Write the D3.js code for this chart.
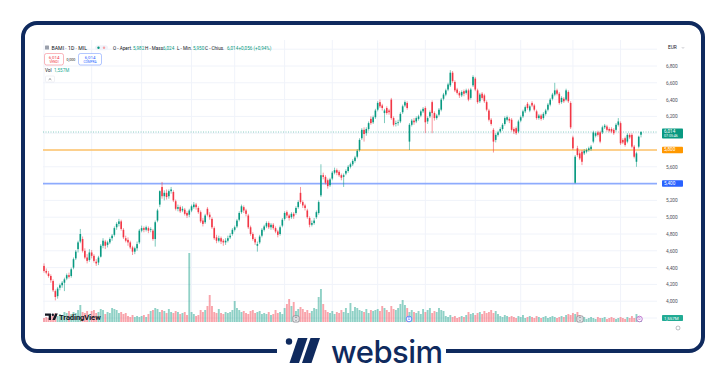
<!DOCTYPE html>
<html><head><meta charset="utf-8">
<script src="https://cdn.jsdelivr.net/npm/d3@7"></script>
<style>html,body{margin:0;padding:0;background:#fff;}svg{display:block;font-family:Roboto,"Noto Sans",sans-serif;}</style>
</head><body><svg id="c" width="726" height="373"></svg>
<script>
// ---------- DATA (BAMI · 1D · MIL, Set 2023 – Set 2024) ----------
const opens=[4.42,4.36,4.33,4.30,4.24,4.12,4.06,4.16,4.19,4.22,
4.27,4.31,4.30,4.40,4.51,4.62,4.71,4.74,4.60,4.52,
4.49,4.58,4.54,4.47,4.46,4.53,4.66,4.71,4.67,4.70,
4.75,4.79,4.88,4.92,4.95,4.85,4.75,4.73,4.70,4.64,
4.59,4.63,4.70,4.84,4.87,4.85,4.87,4.85,4.84,4.74,
4.96,5.15,5.36,5.25,5.29,5.25,5.31,5.30,5.19,5.10,
5.12,5.08,5.09,5.05,5.03,5.08,5.12,5.15,5.11,5.06,
4.96,4.94,5.10,5.03,4.98,4.87,4.76,4.72,4.75,4.72,
4.70,4.72,4.76,4.80,4.85,4.89,4.97,5.06,5.12,5.08,
5.02,4.88,4.80,4.74,4.66,4.70,4.78,4.85,4.89,4.93,
4.88,4.91,4.87,4.83,4.80,4.90,4.98,5.06,5.02,5.00,
5.04,5.05,5.12,5.29,5.18,5.14,5.08,4.99,4.91,4.93,
5.00,5.05,5.26,5.50,5.48,5.44,5.38,5.46,5.53,5.56,
5.54,5.50,5.48,5.52,5.55,5.60,5.63,5.67,5.72,5.80,
5.94,6.04,6.00,6.05,6.17,6.13,6.19,6.28,6.37,6.33,
6.24,6.30,6.27,6.40,6.18,6.11,6.12,6.14,6.25,6.33,
6.36,5.90,6.10,6.15,6.14,6.17,6.21,6.26,6.30,6.14,
6.20,6.37,6.24,6.18,6.22,6.28,6.41,6.46,6.52,6.57,
6.72,6.61,6.52,6.48,6.45,6.50,6.48,6.51,6.42,6.57,
6.65,6.51,6.38,6.47,6.45,6.37,6.27,6.16,6.04,5.92,
5.98,6.02,6.05,6.11,6.16,6.17,6.16,6.05,6.06,6.02,
6.15,6.20,6.26,6.35,6.27,6.36,6.33,6.26,6.18,6.21,
6.18,6.23,6.28,6.34,6.41,6.46,6.51,6.47,6.37,6.41,
6.40,6.49,6.36,5.95,5.41,5.82,5.76,5.78,5.76,5.78,
5.80,5.81,5.90,5.97,6.01,6.01,6.01,6.07,6.08,6.05,
6.05,6.04,6.04,6.10,6.12,5.92,5.94,5.90,5.98,5.98,
5.84,5.66,5.84,5.982];
const highs=[4.45,4.39,4.36,4.32,4.26,4.14,4.17,4.21,4.24,4.28,
4.33,4.34,4.40,4.52,4.61,4.72,4.86,4.77,4.63,4.56,
4.62,4.61,4.56,4.50,4.54,4.68,4.75,4.73,4.72,4.76,
4.80,4.89,4.94,4.98,4.97,4.87,4.78,4.76,4.72,4.66,
4.65,4.71,4.86,4.90,4.89,4.90,4.89,4.88,4.86,4.96,
5.10,5.32,5.42,5.32,5.33,5.33,5.36,5.32,5.21,5.15,
5.14,5.13,5.11,5.07,5.10,5.15,5.18,5.17,5.13,5.08,
4.99,5.04,5.12,5.06,5.00,4.89,4.79,4.78,4.77,4.74,
4.75,4.78,4.81,4.87,4.90,4.98,5.07,5.15,5.14,5.10,
5.04,4.90,4.82,4.76,4.71,4.79,4.87,4.91,4.95,4.95,
4.93,4.93,4.89,4.85,4.90,4.99,5.07,5.08,5.04,5.06,
5.06,5.13,5.20,5.36,5.20,5.16,5.10,5.01,4.96,4.99,
5.08,5.20,5.63,5.53,5.50,5.46,5.47,5.55,5.59,5.58,
5.56,5.52,5.52,5.57,5.62,5.65,5.69,5.73,5.81,5.94,
6.06,6.07,6.07,6.14,6.20,6.21,6.29,6.38,6.40,6.35,
6.29,6.32,6.29,6.42,6.20,6.15,6.16,6.25,6.34,6.39,
6.38,6.12,6.17,6.18,6.20,6.22,6.28,6.31,6.32,6.20,
6.27,6.39,6.26,6.23,6.30,6.42,6.48,6.53,6.60,6.75,
6.74,6.63,6.54,6.50,6.51,6.52,6.53,6.53,6.54,6.69,
6.67,6.53,6.48,6.49,6.47,6.39,6.29,6.18,6.06,6.00,
6.03,6.07,6.12,6.20,6.21,6.19,6.18,6.07,6.08,6.16,
6.21,6.28,6.33,6.37,6.34,6.38,6.35,6.28,6.23,6.23,
6.25,6.29,6.36,6.42,6.48,6.60,6.53,6.49,6.44,6.43,
6.53,6.51,6.38,5.97,5.74,5.85,5.79,5.80,5.81,5.82,
5.84,5.86,6.03,6.02,6.03,6.03,6.09,6.11,6.10,6.07,
6.07,6.06,6.12,6.18,6.14,5.94,5.96,6.00,6.00,6.00,
5.86,5.78,5.97,6.024];
const lows=[4.34,4.32,4.28,4.22,4.11,4.01,4.03,4.13,4.16,4.12,
4.25,4.27,4.28,4.38,4.49,4.58,4.69,4.58,4.50,4.45,
4.47,4.51,4.46,4.42,4.43,4.52,4.63,4.62,4.64,4.68,
4.72,4.77,4.85,4.89,4.84,4.74,4.70,4.66,4.62,4.55,
4.56,4.60,4.68,4.82,4.82,4.83,4.81,4.82,4.72,4.65,
4.94,5.12,5.22,5.20,5.21,5.22,5.28,5.18,5.08,5.07,
5.05,5.06,5.02,4.99,5.00,5.06,5.10,5.09,5.04,4.93,
4.89,4.92,5.01,4.97,4.86,4.73,4.69,4.70,4.68,4.66,
4.67,4.70,4.74,4.78,4.83,4.87,4.95,5.04,5.05,5.01,
4.86,4.78,4.72,4.67,4.59,4.68,4.76,4.83,4.87,4.86,
4.85,4.85,4.81,4.76,4.78,4.88,4.96,4.99,4.96,4.98,
4.98,5.03,5.10,5.16,5.11,5.08,4.98,4.88,4.89,4.91,
4.98,5.03,5.24,5.45,5.39,5.34,5.36,5.44,5.51,5.50,
5.48,5.44,5.36,5.50,5.53,5.58,5.61,5.65,5.70,5.78,
5.92,5.90,5.97,6.03,6.10,6.11,6.17,6.26,6.30,6.27,
6.12,6.22,6.22,6.16,6.08,6.08,6.09,6.12,6.23,6.31,
6.28,5.80,6.08,6.10,6.12,6.15,6.19,6.24,6.00,6.11,
6.18,6.00,6.15,6.16,6.20,6.26,6.39,6.44,6.50,6.55,
6.60,6.49,6.46,6.42,6.43,6.44,6.46,6.38,6.40,6.55,
6.50,6.35,6.36,6.40,6.36,6.26,6.14,6.09,5.77,5.89,
5.96,6.00,6.03,6.09,6.14,6.12,6.02,5.99,5.98,6.00,
6.13,6.18,6.24,6.28,6.25,6.31,6.26,6.16,6.16,6.15,
6.16,6.21,6.26,6.32,6.39,6.44,6.45,6.34,6.35,6.36,
6.38,6.36,6.05,5.80,5.40,5.72,5.68,5.62,5.74,5.76,
5.78,5.79,5.88,5.95,5.96,5.88,5.99,6.05,6.02,6.01,
6.00,5.98,6.02,6.08,5.86,5.87,5.84,5.88,5.93,5.82,
5.70,5.60,5.82,5.950];
const closes=[4.36,4.34,4.30,4.25,4.13,4.05,4.15,4.19,4.22,4.26,
4.31,4.29,4.38,4.50,4.59,4.70,4.80,4.60,4.52,4.48,
4.58,4.54,4.48,4.45,4.52,4.66,4.72,4.66,4.70,4.74,
4.78,4.87,4.92,4.95,4.86,4.76,4.72,4.70,4.64,4.59,
4.63,4.68,4.84,4.87,4.85,4.88,4.84,4.86,4.74,4.94,
5.08,5.31,5.25,5.29,5.24,5.31,5.33,5.20,5.10,5.12,
5.07,5.10,5.04,5.02,5.08,5.13,5.15,5.12,5.06,4.95,
4.92,5.02,5.03,5.00,4.88,4.75,4.72,4.75,4.71,4.70,
4.72,4.75,4.78,4.85,4.88,4.96,5.05,5.13,5.08,5.04,
4.88,4.80,4.74,4.70,4.68,4.77,4.85,4.89,4.93,4.88,
4.91,4.87,4.83,4.79,4.88,4.97,5.05,5.02,4.99,5.04,
5.01,5.11,5.18,5.18,5.14,5.11,5.00,4.91,4.93,4.96,
5.06,5.18,5.50,5.48,5.41,5.37,5.45,5.53,5.56,5.53,
5.50,5.47,5.50,5.55,5.60,5.63,5.67,5.71,5.79,5.92,
6.04,5.99,6.05,6.12,6.12,6.19,6.27,6.36,6.32,6.30,
6.27,6.24,6.25,6.18,6.10,6.12,6.13,6.23,6.32,6.37,
6.30,6.10,6.15,6.13,6.18,6.20,6.26,6.29,6.13,6.18,
6.25,6.24,6.18,6.21,6.28,6.40,6.46,6.51,6.58,6.72,
6.62,6.51,6.48,6.45,6.49,6.47,6.51,6.40,6.52,6.67,
6.52,6.37,6.46,6.42,6.38,6.28,6.16,6.11,5.90,5.98,
6.01,6.05,6.10,6.18,6.19,6.15,6.04,6.02,6.00,6.14,
6.19,6.26,6.31,6.30,6.32,6.33,6.28,6.18,6.21,6.17,
6.23,6.27,6.34,6.40,6.46,6.51,6.47,6.36,6.42,6.38,
6.51,6.38,6.07,5.82,5.72,5.74,5.70,5.66,5.79,5.80,
5.82,5.84,6.01,6.00,5.98,5.90,6.07,6.09,6.04,6.03,
6.02,6.00,6.10,6.14,5.88,5.89,5.86,5.98,5.95,5.84,
5.72,5.76,5.958,6.014];
const volumes=[2.0,2.5,2.0,3.0,3.5,4.5,3.0,4.0,3.5,5.0,
4.5,5.5,4.0,5.0,4.5,6.0,8.5,5.0,4.5,5.5,
4.0,5.5,6.0,4.5,5.0,6.5,6.0,4.0,5.0,4.5,
7.0,6.5,6.0,4.5,5.0,4.0,4.5,3.0,2.5,3.5,
2.5,3.0,2.5,3.0,3.5,2.5,4.0,5.5,6.0,7.0,
6.5,5.0,6.0,5.5,4.5,6.5,5.0,4.5,5.5,5.0,
4.0,4.5,5.0,3.5,34.5,5.0,4.0,3.0,3.5,6.0,
5.0,6.0,8.0,13.5,8.0,5.0,4.5,6.5,4.5,4.0,
5.0,4.5,5.0,6.0,10.5,7.0,6.0,5.0,5.5,4.5,
4.0,5.5,6.0,4.5,5.0,5.5,4.0,4.5,4.0,5.0,
3.5,4.0,6.0,4.5,5.0,4.0,7.0,9.0,11.5,8.0,
10.0,5.5,6.5,7.5,6.5,5.0,6.0,4.5,5.5,7.0,
6.5,12.5,16.5,9.0,6.0,5.0,4.5,5.5,4.0,5.0,
4.5,6.0,5.0,7.0,4.5,9.5,5.5,7.5,7.0,6.0,
5.5,5.0,6.5,4.5,6.0,5.5,6.0,6.5,5.5,8.0,
7.0,6.0,5.0,8.0,6.5,6.0,7.0,9.0,11.0,8.5,
7.0,5.0,6.0,5.0,4.5,5.5,4.0,6.5,5.0,6.0,
7.0,4.5,5.5,5.0,7.0,6.0,5.5,3.0,2.5,3.5,
2.5,3.0,2.0,2.5,3.0,2.5,3.5,5.0,4.0,4.5,
3.5,4.5,5.0,4.0,5.5,4.5,5.0,6.0,4.5,5.5,
4.0,3.0,2.5,3.5,3.0,2.5,3.0,2.5,2.0,3.0,
2.5,3.5,2.0,2.5,3.0,2.5,2.0,3.0,2.5,2.0,
2.5,3.0,2.0,2.5,3.0,2.5,2.0,2.5,3.0,2.5,
3.5,4.0,3.5,4.5,4.0,5.0,3.5,2.0,2.5,1.5,
2.0,2.5,2.0,1.5,2.5,2.0,2.0,2.5,1.5,2.0,
2.5,2.0,1.5,2.0,2.5,2.0,1.5,2.5,2.0,3.0,
2.0,4.0,2.5,1.557];
const priceTicks=[4.0,4.2,4.4,4.6,4.8,5.0,5.2,5.4,5.6,5.8,6.0,6.2,6.4,6.6,6.8];
const gridTicks=[3.8,4.0,4.2,4.4,4.6,4.8,5.0,5.2,5.4,5.6,5.8,6.0,6.2,6.4,6.6,6.8,7.0];
const monthNames=["Gen","Feb","Mar","Apr","Mag","Giu","Lug","Ago","Set","Ott","Nov","Dic"];
const holidays=["2023-12-25","2023-12-26","2024-01-01","2024-03-29","2024-04-01","2024-05-01","2024-08-15"];
const levelOrange=5.8, levelBlue=5.4;
const lastOHLC={o:"5,982",h:"6,024",l:"5,950",c:"6,014",chg:"+0,056 (+0,94%)"};

// ---------- calendar of trading days ----------
const n=closes.length;
const fmtKey=d3.timeFormat("%Y-%m-%d");
const dates=[]; {let d=new Date(2023,8,1); while(dates.length<n){const wd=d.getDay(); if(wd>0&&wd<6&&!holidays.includes(fmtKey(d))) dates.push(new Date(d)); d.setDate(d.getDate()+1);} }

const it=d3.formatLocale({decimal:",",thousands:".",grouping:[3],currency:["€",""]});
const f3=it.format(".3f");

const svg=d3.select("#c");
const NAVY="#0f2a5e", GREEN="#089981", RED="#f23645", TXT="#131722";
svg.append("rect").attr("width",726).attr("height",373).attr("fill","#fff");

const plotL=43, plotR=657, plotT=40, plotB=322;
const x=d3.scaleLinear().domain([0,n-1]).range([44,641]);
const y=d3.scaleLinear().domain([4.0,6.8]).range([301.2,66]);
const yv=d3.scaleLinear().domain([0,d3.max(volumes)]).range([plotB,253]);

svg.append("clipPath").attr("id","pc").append("rect").attr("x",plotL).attr("y",plotT).attr("width",plotR-plotL).attr("height",plotB-plotT);
svg.append("clipPath").attr("id","ac").append("rect").attr("x",41).attr("y",322).attr("width",620).attr("height",12);

const monthIdx=d3.range(n).filter(i=>i===0||dates[i].getMonth()!==dates[i-1].getMonth());

// grid
const grid=svg.append("g").attr("clip-path","url(#pc)");
grid.selectAll("line.h").data(gridTicks).join("line").attr("x1",plotL).attr("x2",plotR)
 .attr("y1",d=>y(d)).attr("y2",d=>y(d)).attr("stroke","#f0f3fa").attr("stroke-width",1);
grid.selectAll("line.v").data(monthIdx).join("line").attr("x1",d=>x(d)).attr("x2",d=>x(d))
 .attr("y1",plotT).attr("y2",plotB).attr("stroke","#f0f3fa").attr("stroke-width",1);

const up=i=>closes[i]>=opens[i];
const plot=svg.append("g").attr("clip-path","url(#pc)");
// volume
plot.selectAll("rect.v").data(d3.range(n)).join("rect")
 .attr("x",i=>x(i)-0.95).attr("width",1.9)
 .attr("y",i=>yv(volumes[i])).attr("height",i=>plotB-yv(volumes[i]))
 .attr("fill",i=>up(i)?"rgba(8,153,129,0.45)":"rgba(242,54,69,0.45)");

// level lines
plot.append("line").attr("x1",plotL).attr("x2",plotR).attr("y1",y(levelOrange)).attr("y2",y(levelOrange))
 .attr("stroke","#ffb74d").attr("stroke-opacity",0.85).attr("stroke-width",1.6);
plot.append("line").attr("x1",plotL).attr("x2",plotR).attr("y1",y(levelBlue)).attr("y2",y(levelBlue))
 .attr("stroke","#2962ff").attr("stroke-opacity",0.5).attr("stroke-width",1.6);
plot.append("line").attr("x1",plotL).attr("x2",plotR).attr("y1",y(closes[n-1])).attr("y2",y(closes[n-1]))
 .attr("stroke",GREEN).attr("stroke-opacity",0.6).attr("stroke-width",0.8).attr("stroke-dasharray","1,1.5");

// candles
plot.selectAll("line.w").data(d3.range(n)).join("line")
 .attr("x1",i=>x(i)).attr("x2",i=>x(i)).attr("y1",i=>y(highs[i])).attr("y2",i=>y(lows[i]))
 .attr("stroke",i=>up(i)?GREEN:RED).attr("stroke-width",0.7).attr("stroke-opacity",0.75);
plot.selectAll("rect.b").data(d3.range(n)).join("rect")
 .attr("x",i=>x(i)-0.8).attr("width",1.6)
 .attr("y",i=>y(Math.max(opens[i],closes[i])))
 .attr("height",i=>Math.max(0.7,Math.abs(y(opens[i])-y(closes[i]))))
 .attr("fill",i=>up(i)?GREEN:RED);

// x axis
const xAxis=d3.axisBottom(x).tickValues(monthIdx).tickSize(0).tickPadding(0)
 .tickFormat(i=>dates[i].getMonth()===0?String(dates[i].getFullYear()):monthNames[dates[i].getMonth()]);
const gx=svg.append("g").attr("transform","translate(0,326)").attr("clip-path","url(#ac)").call(xAxis);
gx.select(".domain").remove();
gx.selectAll("text").attr("font-size",4.8).attr("fill","#50535e").attr("font-family","Roboto,sans-serif");

// y axis (labels hidden behind the price tags are left out, as on the reference)
const tagged=[closes[n-1],levelOrange,levelBlue];
const shownTicks=priceTicks.filter(t=>tagged.every(p=>Math.abs(y(t)-y(p))>6));
const yAxis=d3.axisRight(y).tickValues(shownTicks).tickSize(0).tickPadding(0).tickFormat(f3);
const gy=svg.append("g").attr("transform","translate(666,0)").call(yAxis);
gy.select(".domain").remove();
gy.selectAll("text").attr("font-size",4.8).attr("fill","#50535e").attr("font-family","Roboto,sans-serif");
svg.append("text").attr("x",668).attr("y",49).attr("font-size",4.8).attr("fill",TXT).text("EUR");
svg.append("path").attr("d","M682,47.3 l1,1 l1,-1").attr("fill","none").attr("stroke","#787b86").attr("stroke-width",0.5);

// price labels on axis
function tag(yc,h,fill,lines){
  svg.append("rect").attr("x",662).attr("y",yc-h/2).attr("width",21).attr("height",h).attr("rx",0.8).attr("fill",fill);
  lines.forEach((t,k)=>svg.append("text").attr("x",664).attr("y",yc-h/2+4.6+k*4.2).attr("font-size",t[1]).attr("fill","#fff").text(t[0]));
}
tag(y(closes[n-1])+1.5,10,"#089981",[[f3(closes[n-1]),4.6],["07:05:46",3.6]]);
tag(y(levelOrange),6.5,"#ff9800",[[f3(levelOrange),4.6]]);
tag(y(levelBlue),6.5,"#2962ff",[[f3(levelBlue),4.6]]);
tag(318,6,"#22ab94",[["1,557M",4.4]]);
svg.append("circle").attr("cx",678).attr("cy",328).attr("r",2).attr("fill","none").attr("stroke","#787b86").attr("stroke-width",0.5);

// header
svg.append("rect").attr("x",45).attr("y",45.5).attr("width",4).attr("height",4).attr("rx",0.6).attr("fill","#9aa0ac");
svg.append("text").attr("x",51.5).attr("y",49.8).attr("font-size",5.2).attr("fill",TXT).text("BAMI · 1D · MIL");
svg.append("rect").attr("x",95).attr("y",45.3).attr("width",13).attr("height",5).attr("rx",2.5).attr("fill","#f0f3fa");
svg.append("circle").attr("cx",98.5).attr("cy",47.8).attr("r",1.2).attr("fill",GREEN);
svg.append("circle").attr("cx",104).attr("cy",47.8).attr("r",1.2).attr("fill","#f7a1a6");
const seg=[["O - Apert.",113,TXT],[lastOHLC.o,133,GREEN],["H - Mass.",145,TXT],[lastOHLC.h,163,GREEN],
 ["L - Min.",177,TXT],[lastOHLC.l,193,GREEN],["C - Chius.",205,TXT],[lastOHLC.c,227,GREEN],[lastOHLC.chg,238.5,GREEN]];
seg.forEach(s=>svg.append("text").attr("x",s[1]).attr("y",49.8).attr("font-size",4.6).attr("fill",s[2]).text(s[0]));

// sell / buy
svg.append("rect").attr("x",44.5).attr("y",53.5).attr("width",19).attr("height",11.5).attr("rx",2).attr("fill","#fff").attr("stroke",RED).attr("stroke-opacity",0.6).attr("stroke-width",0.6);
svg.append("text").attr("x",54).attr("y",59).attr("text-anchor","middle").attr("font-size",4.4).attr("fill",RED).text("6,014");
svg.append("text").attr("x",54).attr("y",63.3).attr("text-anchor","middle").attr("font-size",3.2).attr("fill",RED).text("VENDI");
svg.append("text").attr("x",71).attr("y",61).attr("text-anchor","middle").attr("font-size",3.6).attr("fill",TXT).text("0,000");
svg.append("rect").attr("x",78.5).attr("y",53.5).attr("width",23).attr("height",11.5).attr("rx",2).attr("fill","#fff").attr("stroke","#2962ff").attr("stroke-opacity",0.6).attr("stroke-width",0.6);
svg.append("text").attr("x",90).attr("y",59).attr("text-anchor","middle").attr("font-size",4.4).attr("fill","#2962ff").text("6,014");
svg.append("text").attr("x",90).attr("y",63.3).attr("text-anchor","middle").attr("font-size",3.2).attr("fill","#2962ff").text("COMPRA");
svg.append("text").attr("x",45).attr("y",72).attr("font-size",4.6).attr("fill",TXT).text("Vol");
svg.append("text").attr("x",54).attr("y",72).attr("font-size",4.6).attr("fill","#22ab94").text("1,557M");
svg.append("rect").attr("x",45.5).attr("y",76).attr("width",9).attr("height",6).attr("rx",1).attr("fill","#fff").attr("stroke","#e0e3eb").attr("stroke-width",0.5);
svg.append("path").attr("d","M48.7,79.8 l1.3,-1.2 l1.3,1.2").attr("fill","none").attr("stroke",TXT).attr("stroke-width",0.5);

// event markers
function boxMark(cx,col){svg.append("rect").attr("x",cx-3).attr("y",316).attr("width",6).attr("height",6).attr("rx",1).attr("fill","#fff").attr("stroke",col).attr("stroke-width",0.7);
 svg.append("rect").attr("x",cx-1).attr("y",317.6).attr("width",2).attr("height",2.8).attr("fill","none").attr("stroke",col).attr("stroke-width",0.5);}
function circMark(cx,col,t){svg.append("circle").attr("cx",cx).attr("cy",319).attr("r",2.8).attr("fill","#fff").attr("stroke",col).attr("stroke-width",0.7);
 svg.append("text").attr("x",cx).attr("y",320.4).attr("text-anchor","middle").attr("font-size",3.6).attr("fill",col).text(t);}
boxMark(296,"#6a6d78"); circMark(409,"#2962ff","D"); boxMark(580,"#6a6d78"); circMark(639.5,"#ab47bc","D");

// TradingView logo
const tv=svg.append("g").attr("fill",TXT);
tv.append("path").attr("d","M45,313.5 h6 v6.5 h-2.3 v-4.3 h-3.7 Z");
tv.append("circle").attr("cx",52.8).attr("cy",314.7).attr("r",1.2);
tv.append("path").attr("d","M55.2,313.5 h2.6 l-2.8,6.5 h-2.6 Z");
svg.append("text").attr("x",59).attr("y",320).attr("font-size",7.6).attr("font-weight",700).attr("fill",TXT).attr("letter-spacing",-0.1).text("TradingView");

// frame + websim logo
svg.append("rect").attr("x",23).attr("y",23).attr("width",680).attr("height",328).attr("rx",14).attr("fill","none").attr("stroke",NAVY).attr("stroke-width",4);
svg.append("rect").attr("x",277).attr("y",345).attr("width",169).attr("height",12).attr("fill","#fff");
svg.append("circle").attr("cx",289).attr("cy",341.5).attr("r",3.2).attr("fill",NAVY);
svg.append("path").attr("d","M298,338 h9.5 l-8.5,25 h-9.5 Z").attr("fill",NAVY);
svg.append("path").attr("d","M310.5,338 h9.5 l-8.5,25 h-9.5 Z").attr("fill",NAVY);
svg.append("text").attr("x",331).attr("y",363).attr("font-size",31).attr("font-weight",500).attr("font-family","Inter,Roboto,sans-serif").attr("fill",NAVY).attr("letter-spacing",-0.5).text("websim");
</script></body></html>
